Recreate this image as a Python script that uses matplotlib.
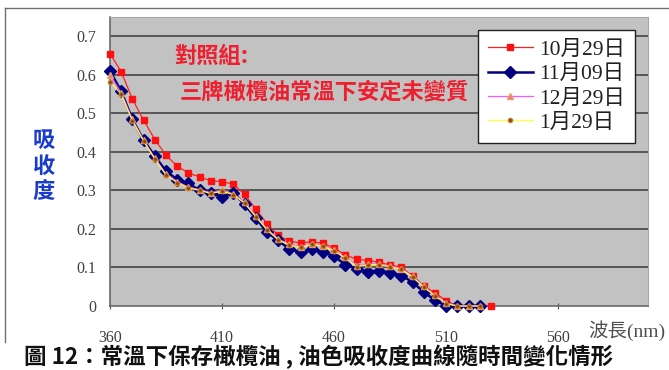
import matplotlib
matplotlib.use("Agg")
import matplotlib.pyplot as plt
from matplotlib.lines import Line2D

# Wavelength grid (nm)
wl_oct = [360, 365, 370, 375, 380, 385, 390, 395, 400, 405, 410, 415, 420, 425,
          430, 435, 440, 445, 450, 455, 460, 465, 470, 475, 480, 485, 490, 495,
          500, 505, 510, 515, 520, 525, 530]
wl_other = wl_oct[:-1]

# Absorbance readings on each date
abs_oct29 = [0.655, 0.608, 0.537, 0.482, 0.432, 0.391, 0.363, 0.345, 0.335, 0.325,
             0.323, 0.316, 0.290, 0.252, 0.214, 0.183, 0.169, 0.163, 0.167, 0.163,
             0.150, 0.133, 0.121, 0.118, 0.114, 0.106, 0.101, 0.077, 0.052, 0.034,
             0.014, 0.0, 0.0, 0.0, 0.0]
abs_nov09 = [0.610, 0.557, 0.484, 0.430, 0.389, 0.350, 0.328, 0.318, 0.300, 0.293,
             0.284, 0.294, 0.264, 0.228, 0.192, 0.170, 0.148, 0.140, 0.147, 0.140,
             0.129, 0.107, 0.097, 0.089, 0.092, 0.085, 0.079, 0.062, 0.036, 0.015,
             0.0, 0.0, 0.0, 0.0]
abs_dec29 = [0.600, 0.553, 0.484, 0.430, 0.384, 0.342, 0.323, 0.308, 0.302, 0.294,
             0.300, 0.291, 0.270, 0.234, 0.200, 0.174, 0.160, 0.154, 0.162, 0.157,
             0.145, 0.126, 0.104, 0.109, 0.109, 0.104, 0.097, 0.077, 0.051, 0.028,
             0.008, 0.0, 0.0, 0.0]
abs_jan29 = [0.582, 0.550, 0.480, 0.428, 0.381, 0.340, 0.320, 0.306, 0.300, 0.292,
             0.298, 0.289, 0.267, 0.232, 0.198, 0.172, 0.158, 0.152, 0.160, 0.155,
             0.143, 0.124, 0.102, 0.107, 0.107, 0.102, 0.095, 0.075, 0.049, 0.026,
             0.006, 0.0, 0.0, 0.0]

series_labels = ["10月29日", "11月09日", "12月29日", "1月29日"]
x_ticks = [360, 410, 460, 510, 560]
y_ticks = [0, 0.1, 0.2, 0.3, 0.4, 0.5, 0.6, 0.7]
y_tick_labels = ["0", "0.1", "0.2", "0.3", "0.4", "0.5", "0.6", "0.7"]

W, H = 669, 370
fig = plt.figure(figsize=(W / 100, H / 100), dpi=100)
fig.patch.set_facecolor("white")


def fx(px):
    return px / W


def fy(py):
    return 1 - py / H


ax = fig.add_axes([fx(110), fy(306), fx(648) - fx(110), fy(17) - fy(306)])
ax.set_facecolor("#c2c2c2")
ax.set_xlim(360, 600)
ax.set_ylim(0, 0.75)

for y in y_ticks[1:]:
    ax.axhline(y, color="#3a3a3a", lw=1.1, zorder=1)

serif = ["Liberation Serif", "Noto Sans CJK TC"]

l_red, = ax.plot(wl_oct, abs_oct29, color="#ff2020", lw=0.9, marker="s", ms=5,
                 mfc="#ff1010", mec="#ff1010", zorder=3, clip_on=False)
l_blue, = ax.plot(wl_other, abs_nov09, color="#000080", lw=1.8, marker="D", ms=6.5,
                  mfc="#000080", mec="#000080", zorder=4, clip_on=False)
l_pink, = ax.plot(wl_other, abs_dec29, color="#ff55ff", lw=0.9, marker="^", ms=4.5,
                  mfc="#f07090", mec="#e8a060", zorder=5, clip_on=False)
l_yel, = ax.plot(wl_other, abs_jan29, color="#ffff40", lw=0.9, marker="o", ms=3,
                 mfc="#8b3a1a", mec="#c08030", zorder=6, clip_on=False)

ax.set_xticks(x_ticks)
ax.set_xticklabels([str(v) for v in x_ticks], family=serif, fontsize=11.5,
                   color="#404040")
ax.tick_params(axis="x", direction="inout", length=5, width=0.8,
               color="#505050", pad=15)
ax.set_yticks(y_ticks)
ax.set_yticklabels(y_tick_labels, family=serif, fontsize=11.5, color="#404040")
ax.tick_params(axis="y", length=0, pad=10)

for side in ["left", "bottom"]:
    ax.spines[side].set_color("#6a6a6a")
    ax.spines[side].set_linewidth(1.2)
for side in ["top", "right"]:
    ax.spines[side].set_color("#a8a8a8")
    ax.spines[side].set_linewidth(0.8)

leg = ax.legend([l_red, l_blue, l_pink, l_yel], series_labels,
                loc="upper left", bbox_to_anchor=(fx(478), fy(30)),
                bbox_transform=fig.transFigure,
                prop={"family": serif, "size": 15.5},
                frameon=True, fancybox=False, framealpha=1,
                edgecolor="#202020", handlelength=2.1, handletextpad=0.3,
                labelspacing=0.2, borderpad=0.45, borderaxespad=0)
leg.get_frame().set_linewidth(1.0)
leg.set_zorder(10)
for t in leg.get_texts():
    t.set_color("#202020")

cjk_bold = ["Noto Sans CJK TC", "DejaVu Sans"]
fig.text(fx(174), fy(56), "對照組:", family=cjk_bold, fontsize=16,
         fontweight="bold", color="#ee2030", ha="left", va="center")
fig.text(fx(180), fy(92), "三牌橄欖油常溫下安定未變質", family=cjk_bold,
         fontsize=16, fontweight="bold", color="#ee2030", ha="left",
         va="center")

fig.text(fx(44), fy(166), "吸\n收\n度", family=cjk_bold, fontsize=16,
         fontweight="bold", color="#1a3ccc", ha="center", va="center",
         linespacing=1.15)

fig.text(fx(588), fy(331), "波長(nm)", family=serif, fontsize=14,
         color="#505050", ha="left", va="center")

fig.text(fx(24), fy(357), "圖 12：常溫下保存橄欖油 , 油色吸收度曲線隨時間變化情形",
         family=cjk_bold, fontsize=16.2, fontweight="bold", color="#111111",
         ha="left", va="center")

# Outer frame lines (top and left)
fig.add_artist(Line2D([fx(5), 1.0], [fy(8), fy(8)], color="#707070", lw=1.0))
fig.add_artist(Line2D([fx(5), fx(5)], [fy(8), fy(342)], color="#707070", lw=1.0))

fig.savefig("out.png", dpi=100)
